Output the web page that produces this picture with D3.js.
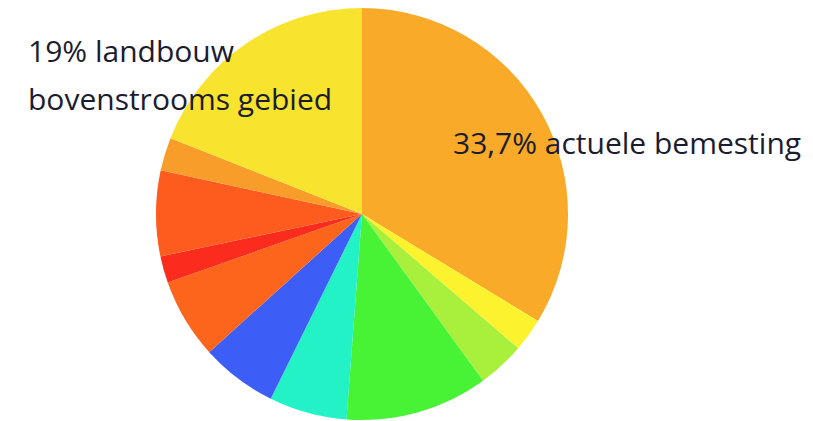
<!DOCTYPE html>
<html>
<head>
<meta charset="utf-8">
<script src="https://cdn.jsdelivr.net/npm/d3@7"></script>
<style>
  body { margin: 0; background: #fff; }
  text { font-family: "Open Sans", Lato, sans-serif; fill: #1c1c30; }
</style>
</head>
<body>
<svg id="chart"></svg>
<script>
// slice shares (%), clockwise from 12 o'clock
var labels = ["actuele bemesting", "geel", "lichtgroen", "groen", "cyaan", "blauw",
              "oranjerood", "rood", "oranjerood 2", "oranje", "landbouw bovenstrooms gebied"];
var values = [33.7, 2.6, 3.7, 11.2, 6.1, 6.0, 6.3, 2.1, 6.7, 2.6, 19.0];
var colors = ["#F8AA28", "#FDF22E", "#A8F03C", "#48F234", "#22F2C6", "#3C5EF6",
              "#FD641C", "#FB2C1E", "#FD5C1E", "#F89C2A", "#F8E42E"];

var width = 813, height = 421;
var cx = 362, cy = 214, radius = 206;

var svg = d3.select("#chart")
    .attr("width", width)
    .attr("height", height);

var g = svg.append("g")
    .attr("transform", "translate(" + cx + "," + cy + ")");

var pie = d3.pie().sort(null).value(function(d) { return d; });
var arc = d3.arc().innerRadius(0).outerRadius(radius);

g.selectAll("path")
    .data(pie(values))
  .enter().append("path")
    .attr("d", arc)
    .attr("fill", function(d, i) { return colors[i]; });

// labels
svg.append("text")
    .attr("x", 28)
    .attr("y", 62)
    .attr("font-size", "30px")
    .text("19% landbouw");

svg.append("text")
    .attr("x", 28)
    .attr("y", 110)
    .attr("font-size", "30px")
    .text("bovenstrooms gebied");

svg.append("text")
    .attr("x", 453)
    .attr("y", 154)
    .attr("font-size", "30px")
    .text("33,7% actuele bemesting");
</script>
</body>
</html>
